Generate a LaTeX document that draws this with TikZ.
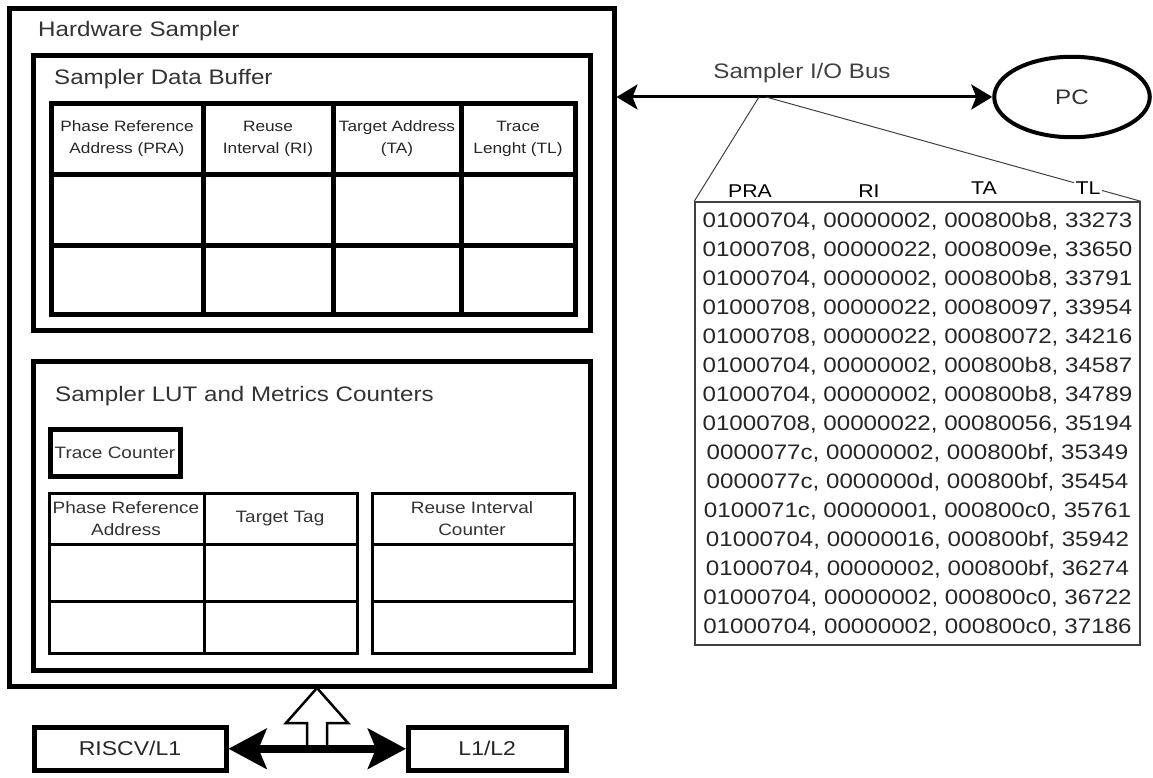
\documentclass[tikz,border=0pt]{standalone}
\usepackage{fontspec}
\setmainfont{Liberation Sans}
\newfontfamily\diagfont{Liberation Sans}[FakeStretch=1.15]
\usetikzlibrary{arrows.meta,shapes.geometric,calc}

\newcommand\setfs[2]{\fontsize{#1}{#2}\selectfont}

\begin{document}
\begin{tikzpicture}[x=1pt,y=-1pt,
  every node/.style={font=\diagfont, inner sep=0pt},
  frame/.style={draw, line width=5pt},
  title/.style={anchor=base west, text=black!80, font=\diagfont\setfs{21}{25}},
  hdr/.style={align=center, text=black!85, font=\diagfont\setfs{15}{22}},
  luthdr/.style={align=center, text=black!80, font=\diagfont\setfs{16.5}{22}},
  datarow/.style={anchor=base, text=black!85, font=\diagfont\setfs{21}{25}},
  collabel/.style={anchor=base, text=black, font=\diagfont\setfs{18.5}{22}},
  thickgrid/.style={line width=5pt},
  thingrid/.style={line width=3pt},
  busline/.style={line width=3pt, {Stealth[length=21pt,width=25pt,inset=5pt]}-{Stealth[length=21pt,width=25pt,inset=5pt]}},
  coreline/.style={line width=8pt, {Stealth[length=38pt,width=40pt,inset=8pt]}-{Stealth[length=38pt,width=40pt,inset=8pt]}},
  zoomline/.style={draw=black!75, line width=1pt}]

\useasboundingbox (0,0) rectangle (1153,778);

% ---------------- hardware sampler enclosure ----------------
\node[frame, minimum width=605pt, minimum height=677.5pt] (hs) at (311.5,347.25) {};
\node[title] (hstitle) at (38,37) {Hardware Sampler};

% ---------------- sampler data buffer ----------------
\node[frame, minimum width=557pt, minimum height=274pt] (sdb) at (311.5,193) {};
\node[title] (sdbtitle) at (54,85) {Sampler Data Buffer};

\draw[thickgrid] (51,103.5) rectangle (575,314);
\foreach \cx in {203,333,461} \draw[thickgrid] (\cx,103.5) -- (\cx,314);
\foreach \ry in {174.5,245.5} \draw[thickgrid] (51,\ry) -- (575,\ry);

\node[hdr] (dpra) at (127,139) {Phase Reference\\Address (PRA)};
\node[hdr] (dri)  at (268,139) {Reuse\\Interval (RI)};
\node[hdr] (dta)  at (397,139) {Target Address\\(TA)};
\node[hdr] (dtl)  at (518,139) {Trace\\Lenght (TL)};

% ---------------- LUT and metrics counters ----------------
\node[frame, minimum width=557pt, minimum height=309pt] (lut) at (311.5,515.5) {};
\node[title] (luttitle) at (55,401) {Sampler LUT and Metrics Counters};

\node[frame, minimum width=130pt, minimum height=47pt, text=black!80,
      font=\diagfont\setfs{16.5}{20}] (trc) at (115,452.5) {Trace Counter};

\draw[thingrid] (49,493) rectangle (357,653);
\draw[thingrid] (204,493) -- (204,653);
\foreach \ry in {544,601} \draw[thingrid] (49,\ry) -- (357,\ry);
\draw[thingrid] (372,493) rectangle (574,653);
\foreach \ry in {544,601} \draw[thingrid] (372,\ry) -- (574,\ry);

\node[luthdr] (lpra) at (126,518.5) {Phase Reference\\Address};
\node[luthdr] (ltag) at (280,518.5) {Target Tag};
\node[luthdr] (lric) at (472,518.5) {Reuse Interval\\Counter};

% ---------------- core side ----------------
\node[frame, minimum width=192pt, minimum height=42.5pt,
      font=\diagfont\setfs{20}{24}, text=black!85] (riscv) at (130,748.75) {RISCV/L1};
\node[frame, minimum width=157.5pt, minimum height=42.5pt,
      font=\diagfont\setfs{20}{24}, text=black!85] (l12) at (487.25,748.75) {L1/L2};

\coordinate (uptip) at (317,688);
\draw[line width=2.5pt, fill=white, line join=miter]
  (307,749) -- (307,723) -- (286,723) -- (uptip) -- (348,723) -- (327,723) -- (327,749);
\draw[coreline] (riscv.east) -- (l12.west);

% ---------------- I/O bus and host ----------------
\node[draw, ellipse, line width=4pt, minimum width=155.5pt, minimum height=80.5pt,
      font=\diagfont\setfs{21}{25}, text=black!80] (pc) at (1072,97) {PC};
\draw[busline] (hs.east |- pc.west) -- (pc.west);
\node[anchor=base, text=black!75, font=\diagfont\setfs{21}{25}] (buslabel) at (802,79) {Sampler I/O Bus};

% ---------------- captured trace dump ----------------
\node[draw=black!75, line width=1.5pt, minimum width=445pt, minimum height=443pt] (dt) at (917.5,423.5) {};
\coordinate (tapa) at (759,97);
\coordinate (tapb) at (766,97);
\draw[zoomline] (tapa) -- (dt.north west);
\draw[zoomline] (tapb) -- (dt.north east);

\node[collabel] (cpra) at (750,197) {PRA};
\node[collabel] (cri)  at (869,197) {RI};
\node[collabel] (cta)  at (984,194) {TA};
\node[collabel, fill=white, inner sep=2pt] (ctl) at (1088,195) {TL};

\foreach \r [count=\i from 0] in {
  {01000704, 00000002, 000800b8, 33273},
  {01000708, 00000022, 0008009e, 33650},
  {01000704, 00000002, 000800b8, 33791},
  {01000708, 00000022, 00080097, 33954},
  {01000708, 00000022, 00080072, 34216},
  {01000704, 00000002, 000800b8, 34587},
  {01000704, 00000002, 000800b8, 34789},
  {01000708, 00000022, 00080056, 35194},
  {0000077c, 00000002, 000800bf, 35349},
  {0000077c, 0000000d, 000800bf, 35454},
  {0100071c, 00000001, 000800c0, 35761},
  {01000704, 00000016, 000800bf, 35942},
  {01000704, 00000002, 000800bf, 36274},
  {01000704, 00000002, 000800c0, 36722},
  {01000704, 00000002, 000800c0, 37186}}
  \node[datarow] (row\i) at (917.5,{227+29.07*\i}) {\r};

\end{tikzpicture}
\end{document}
